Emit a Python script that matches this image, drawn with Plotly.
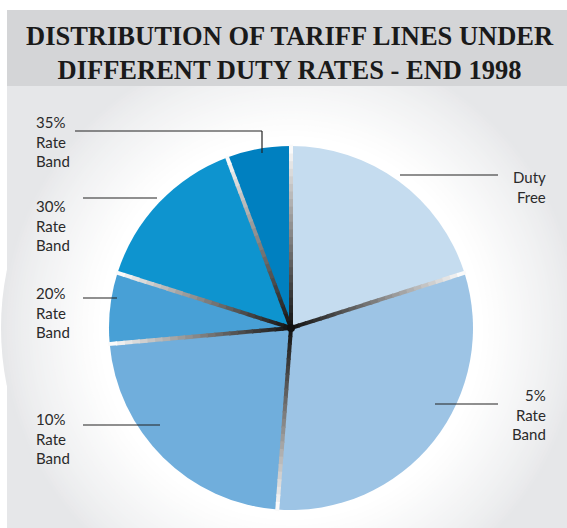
import plotly.graph_objects as go
import numpy as np

# ---- data ----
categories = ["Duty Free", "5% Rate Band", "10% Rate Band", "20% Rate Band", "30% Rate Band", "35% Rate Band"]
shares = [20.1, 31.1, 22.4, 6.3, 14.4, 5.7]
colors = ["#C5DCEF", "#9DC4E5", "#70AEDC", "#48A0D6", "#0E94CF", "#0080C0"]
title_lines = ["DISTRIBUTION OF TARIFF LINES UNDER", "DIFFERENT DUTY RATES - END 1998"]

W, H = 567, 528
CX, CY, R = 291, 328, 182

def px(x):
    return x / W

def py(y):
    return 1 - y / H

fig = go.Figure()
fig.add_trace(go.Pie(
    labels=categories, values=shares, sort=False, direction="clockwise", rotation=0,
    marker=dict(colors=colors, line=dict(width=0)),
    textinfo="none", hoverinfo="label+percent", showlegend=False,
    domain=dict(x=[px(CX - R), px(CX + R)], y=[py(CY + R), py(CY - R)]),
))

shapes = []
# lower background
shapes.append(dict(type="rect", xref="paper", yref="paper", x0=px(7), x1=1, y0=0, y1=py(86),
                   fillcolor="#E6E7E9", line=dict(width=0), layer="below"))
# radial glow
gray = np.array([0xE6, 0xE7, 0xE9])
n = 36
r_out, r_in = 290, 192
for i in range(n):
    t = i / (n - 1)
    r = r_out - (r_out - r_in) * t
    c = gray + (255 - gray) * (t ** 0.8)
    col = "rgb(%d,%d,%d)" % tuple(c.round().astype(int))
    shapes.append(dict(type="circle", xref="paper", yref="paper",
                       x0=px(CX - r), x1=px(CX + r), y0=py(CY + r), y1=py(CY - r),
                       fillcolor=col, line=dict(width=0), layer="below"))
# title band
shapes.append(dict(type="rect", xref="paper", yref="paper", x0=px(7), x1=1, y0=py(86), y1=py(10),
                   fillcolor="#D4D5D7", line=dict(width=0), layer="below"))

# separators: gradient from black at centre to white at rim
cum = np.concatenate([[0], np.cumsum(shares)]) / sum(shares)
angles = cum[:-1] * 2 * np.pi
segs = 24
for a in angles:
    dx, dy = np.sin(a), -np.cos(a)
    for k in range(segs):
        r0 = R * k / segs
        r1 = R * (k + 1) / segs + 1.5
        t = (k + 0.5) / segs
        v = int(round(20 + 235 * t ** 1.1))
        shapes.append(dict(type="line", xref="paper", yref="paper",
                           x0=px(CX + dx * r0), y0=py(CY + dy * r0),
                           x1=px(CX + dx * min(r1, R + 2)), y1=py(CY + dy * min(r1, R + 2)),
                           line=dict(color="rgb(%d,%d,%d)" % (v, v, v), width=4), layer="above"))
shapes.append(dict(type="circle", xref="paper", yref="paper",
                   x0=px(CX - 4), x1=px(CX + 4), y0=py(CY + 4), y1=py(CY - 4),
                   fillcolor="#111111", line=dict(width=0), layer="above"))

# leader lines
lc = dict(color="#222222", width=1.2)
def seg(x0, y0, x1, y1):
    shapes.append(dict(type="line", xref="paper", yref="paper", x0=px(x0), y0=py(y0),
                       x1=px(x1), y1=py(y1), line=lc, layer="above"))
seg(75, 131, 262, 131); seg(262, 131, 262, 153)
seg(83, 198, 157, 198)
seg(83, 298, 117, 298)
seg(83, 425, 160, 425)
seg(400, 175, 498, 175)
seg(435, 404, 498, 404)

fig.update_layout(shapes=shapes)

annos = []
annos.append(dict(text="<b>" + title_lines[0] + "<br>" + title_lines[1] + "</b>", x=px(290), y=py(53),
                  xref="paper", yref="paper", showarrow=False, xanchor="center", yanchor="middle",
                  font=dict(family="Liberation Serif", size=26.5, color="#1a1a1a")))
lf = dict(family="Lato", size=15, color="#2a2a2a")
left_labels = [("35%<br>Rate<br>Band", 141), ("30%<br>Rate<br>Band", 226), ("20%<br>Rate<br>Band", 312),
               ("10%<br>Rate<br>Band", 438)]
for t, y in left_labels:
    annos.append(dict(text=t, x=px(34), y=py(y), xref="paper", yref="paper", showarrow=False,
                      xanchor="left", yanchor="middle", align="left", font=lf))
right_labels = [("Duty<br>Free", 187), ("5%<br>Rate<br>Band", 414)]
for t, y in right_labels:
    annos.append(dict(text=t, x=px(548), y=py(y), xref="paper", yref="paper", showarrow=False,
                      xanchor="right", yanchor="middle", align="right", font=lf))

fig.update_layout(annotations=annos, width=W, height=H, margin=dict(l=0, r=0, t=0, b=0),
                  paper_bgcolor="white", plot_bgcolor="rgba(0,0,0,0)",
                  xaxis=dict(visible=False), yaxis=dict(visible=False))
fig.write_html("out.html", config={"displayModeBar": False},
               post_script="document.body.style.margin='0';document.body.style.overflow='hidden';")
